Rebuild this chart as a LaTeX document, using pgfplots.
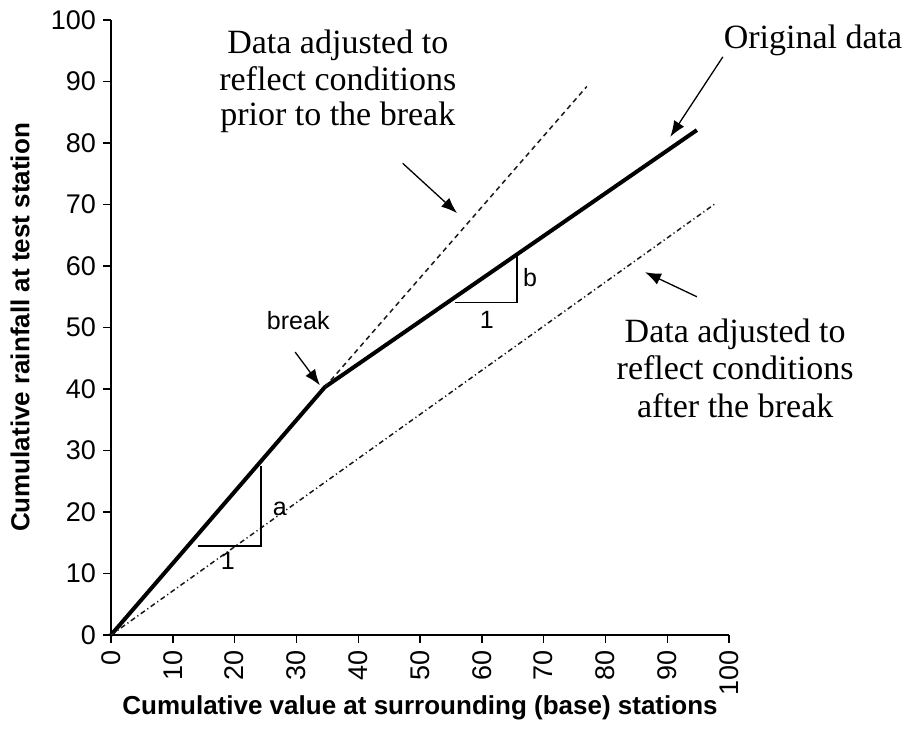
\documentclass[border=0pt]{standalone}
\usepackage{fontspec}
\setmainfont{Liberation Serif}
\newfontfamily\arial{Liberation Sans}
\usepackage{pgfplots}
\pgfplotsset{compat=1.18}
\usetikzlibrary{arrows.meta}
\begin{document}
\begin{tikzpicture}
\begin{axis}[
  at={(0,0)}, anchor=south west,
  scale only axis, width=309pt, height=307.5pt,
  xmin=0, xmax=100, ymin=0, ymax=100, clip=false,
  axis x line*=bottom, axis y line*=left,
  axis line style={line width=0.7pt},
  xtick={0,10,...,100}, ytick={0,10,...,100},
  tick align=outside, major tick length=4pt,
  tick style={line width=0.7pt, black},
  /pgf/number format/assume math mode=true,
  ticklabel style={font=\arial\fontsize{13.5}{15}\selectfont},
  xticklabel style={rotate=90, anchor=east},
  xlabel={Cumulative value at surrounding (base) stations},
  ylabel={Cumulative rainfall at test station},
  label style={font=\arial\bfseries\fontsize{13}{15}\selectfont},
  xlabel style={at={(axis description cs:0.5,-0.119)}, anchor=center},
  ylabel style={at={(axis description cs:-0.147,0.5)}, anchor=center},
]
% original data
\addplot[black, line width=2pt, line join=round] coordinates {(0,0) (34.6,40.3) (94.8,82.1)};
% adjusted prior (dashed)
\addplot[black!90, line width=0.75pt, dash pattern=on 2.5pt off 2pt] coordinates {(34.6,40.3) (77,89.2)};
% adjusted after (dash-dot)
\addplot[black!90, line width=0.75pt, dash pattern=on 2.5pt off 1.5pt on 0.6pt off 1.5pt] coordinates {(0,0) (98,70.3)};
% slope triangles
\addplot[black, line width=0.7pt] coordinates {(14,14.5) (24.3,14.5) (24.3,27.5)};
\addplot[black, line width=0.7pt] coordinates {(55.7,54.1) (65.7,54.1) (65.7,61.7)};

% arrows
\draw[line width=0.65pt, -{Latex[length=8pt,width=6pt]}] (axis cs:99.0,94.0) -- (axis cs:90.5,81.0);
\draw[line width=0.65pt, -{Latex[length=8pt,width=6pt]}] (axis cs:47.2,76.7) -- (axis cs:56.0,68.6);
\draw[line width=0.65pt, -{Latex[length=8pt,width=6pt]}] (axis cs:94.8,55.0) -- (axis cs:86.4,59.0);
\draw[line width=0.65pt, -{Latex[length=8pt,width=6pt]}] (axis cs:29.8,46.0) -- (axis cs:33.8,40.6);

% Times annotations
\begin{scope}[every node/.style={font=\fontsize{17}{18}\selectfont, anchor=base, inner sep=0pt}]
\node at (axis cs:113.6,95.4) {Original data};
\node at (axis cs:36.7,94.6) {Data adjusted to};
\node at (axis cs:36.7,88.6) {reflect conditions};
\node at (axis cs:36.7,82.9) {prior to the break};
\node at (axis cs:101.0,47.6) {Data adjusted to};
\node at (axis cs:101.0,41.5) {reflect conditions};
\node at (axis cs:101.0,35.4) {after the break};
\end{scope}
% Arial small labels
\begin{scope}[every node/.style={font=\arial\fontsize{12.5}{14}\selectfont, anchor=base, inner sep=0pt}]
\node at (axis cs:30.3,49.6) {break};
\node at (axis cs:27.3,19.5) {a};
\node at (axis cs:18.9,10.6) {1};
\node at (axis cs:67.8,56.6) {b};
\node at (axis cs:60.8,49.9) {1};
\end{scope}
\end{axis}
\pgfresetboundingbox
\path (-55.5pt,-52.5pt) rectangle (401.5pt,317.5pt);
\end{tikzpicture}
\end{document}
